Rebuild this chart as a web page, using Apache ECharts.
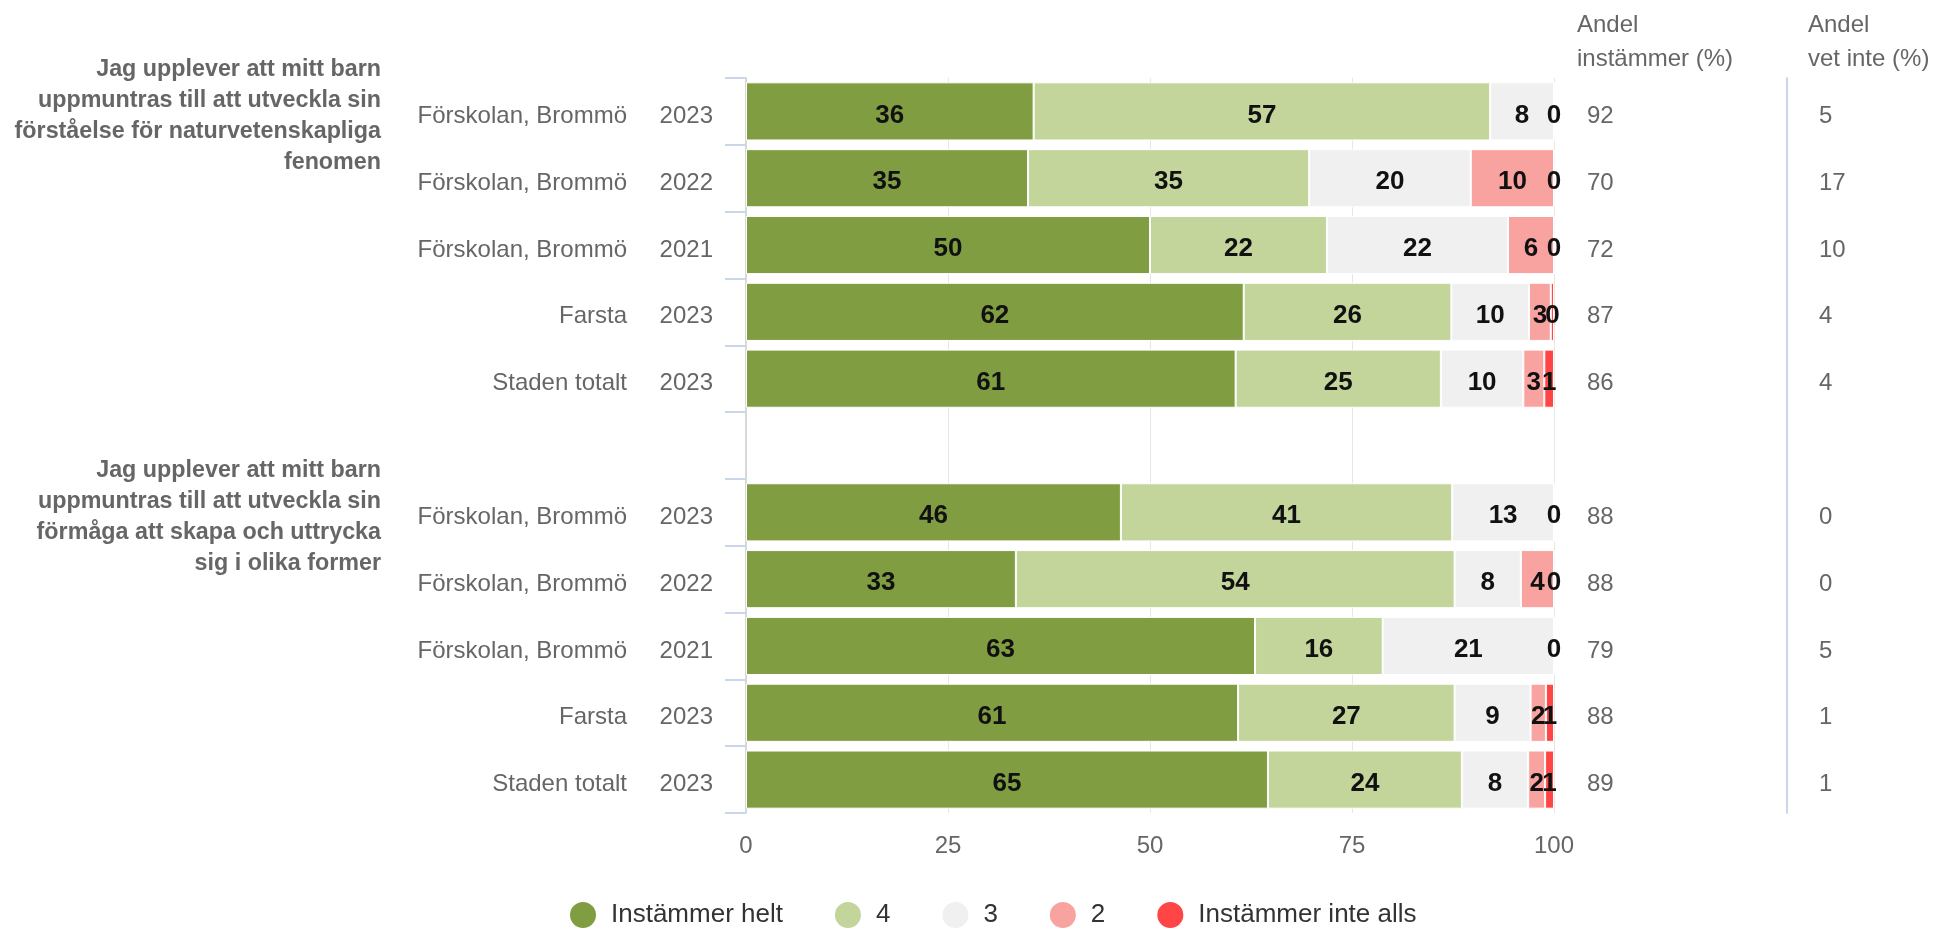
<!DOCTYPE html>
<html>
<head>
<meta charset="utf-8">
<script src="https://cdn.jsdelivr.net/npm/echarts@6/dist/echarts.min.js"></script>
<style>
html,body{margin:0;padding:0;background:#fff;}
#chart{width:1946px;height:928px;}
</style>
</head>
<body>
<div id="chart"></div>
<script>
const units = ['Förskolan, Brommö','Förskolan, Brommö','Förskolan, Brommö','Farsta','Staden totalt','',
               'Förskolan, Brommö','Förskolan, Brommö','Förskolan, Brommö','Farsta','Staden totalt'];
const years = ['2023','2022','2021','2023','2023','','2023','2022','2021','2023','2023'];
const questions = [
  'Jag upplever att mitt barn\nuppmuntras till att utveckla sin\nförståelse för naturvetenskapliga\nfenomen','','','','','',
  'Jag upplever att mitt barn\nuppmuntras till att utveckla sin\nförmåga att skapa och uttrycka\nsig i olika former','','','',''
];
const seriesNames = ['Instämmer helt','4','3','2','Instämmer inte alls'];
const helt     = [35.6, 34.9, 50.0, 61.6, 60.6, null, 46.4, 33.4, 63.0, 60.9, 64.6];
const fyra     = [56.5, 34.8, 21.9, 25.7, 25.4, null, 41.0, 54.3, 15.8, 26.8, 24.0];
const tre      = [7.9, 20.0, 22.4, 9.6, 10.2, null, 12.6, 8.2, 21.2, 9.4, 8.2];
const tva      = [0, 10.3, 5.7, 2.7, 2.6, null, 0, 4.1, 0, 1.9, 2.1];
const inteAlls = [0, 0, 0, 0.4, 1.2, null, 0, 0, 0, 1.0, 1.1];
const andelInstammer = ['92','70','72','87','86','','88','88','79','88','89'];
const andelVetInte   = ['5','17','10','4','4','','0','0','5','1','1'];
const xTicks = [0, 25, 50, 75, 100];

const colors = ['#809d42','#c3d59b','#f0f0f0','#f9a3a1','#ff4545'];
const FONT = '"Liberation Sans", Arial, sans-serif';
const valuesBySeries = [helt, fyra, tre, tva, inteAlls];

const chart = echarts.init(document.getElementById('chart'));

const series = valuesBySeries.map((vals, si) => ({
  name: seriesNames[si],
  type: 'bar',
  stack: 'total',
  barCategoryGap: '13%',
  xAxisIndex: 0,
  yAxisIndex: 0,
  data: vals,
  itemStyle: { color: colors[si], borderColor: '#ffffff', borderWidth: 1 },
  label: {
    show: true,
    position: 'inside',
    offset: [0, 4],
    color: '#111',
    fontFamily: FONT,
    fontWeight: 'bold',
    fontSize: 26,
    formatter: p => {
      if (p.value == null) return '';
      const v = Math.round(p.value);
      if (si === 4 && v === 0 && Math.round(tva[p.dataIndex]) === 0) return '';
      return String(v);
    }
  },
  emphasis: { disabled: true }
}));

const catAxisBase = {
  type: 'category',
  inverse: true,
  gridIndex: 1,
  axisTick: { show: false },
  axisLine: { show: false },
  splitLine: { show: false }
};
const rowLabel = { fontSize: 24, color: '#666', fontFamily: FONT };

chart.setOption({
  animation: false,
  textStyle: { fontFamily: FONT },
  color: colors,
  grid: [
    { left: 746, right: 392, top: 78, bottom: 115, containLabel: false },
    { left: 746, right: 392, top: 83, bottom: 110, containLabel: false }
  ],
  legend: {
    data: seriesNames,
    left: 563,
    top: 895,
    icon: 'circle',
    itemWidth: 28,
    itemHeight: 28,
    itemGap: 50,
    textStyle: { fontSize: 26, color: '#333', fontFamily: FONT, padding: [0, 0, 0, 9] },
    selectedMode: false
  },
  xAxis: [
    {
      type: 'value',
      gridIndex: 0,
      min: xTicks[0],
      max: xTicks[xTicks.length - 1],
      interval: 25,
      axisLine: { show: false },
      axisTick: { show: false },
      splitLine: { show: true, lineStyle: { color: '#e6e6e6', width: 1 } },
      axisLabel: { fontSize: 24, color: '#666', margin: 21, fontFamily: FONT }
    },
    { type: 'value', gridIndex: 1, show: false, min: 0, max: 100 }
  ],
  yAxis: [
    {
      type: 'category',
      inverse: true,
      gridIndex: 0,
      position: 'left',
      data: years,
      axisLine: { show: true, lineStyle: { color: '#d8d8d8', width: 2 } },
      axisTick: { show: true, length: 21, alignWithLabel: false, lineStyle: { color: '#ccd6eb', width: 2 } },
      axisLabel: { show: false },
      splitLine: { show: false }
    },
    {
      type: 'category',
      inverse: true,
      gridIndex: 0,
      position: 'right',
      offset: 233,
      data: andelVetInte,
      axisLine: { show: true, lineStyle: { color: '#ccd6eb', width: 2 } },
      axisTick: { show: false },
      axisLabel: { show: false },
      splitLine: { show: false }
    },
    Object.assign({}, catAxisBase, {
      data: years,
      position: 'left',
      offset: 0,
      axisLabel: Object.assign({}, rowLabel, { margin: 33 })
    }),
    Object.assign({}, catAxisBase, {
      data: units,
      position: 'left',
      offset: 0,
      axisLabel: Object.assign({}, rowLabel, { margin: 119 })
    }),
    Object.assign({}, catAxisBase, {
      data: questions,
      position: 'left',
      offset: 0,
      axisLabel: {
        fontSize: 23.3, color: '#666', fontWeight: 'bold', margin: 365, lineHeight: 31,
        align: 'right', fontFamily: FONT, interval: 0
      }
    }),
    Object.assign({}, catAxisBase, {
      data: andelInstammer,
      position: 'right',
      offset: 0,
      axisLabel: Object.assign({}, rowLabel, { margin: 33, align: 'left' })
    }),
    Object.assign({}, catAxisBase, {
      data: andelVetInte,
      position: 'right',
      offset: 233,
      axisLabel: Object.assign({}, rowLabel, { margin: 32, align: 'left' })
    })
  ],
  graphic: [
    { type: 'text', left: 1577, top: 8,
      style: { text: 'Andel\ninstämmer (%)', fontSize: 24, lineHeight: 34, fill: '#666', fontFamily: FONT } },
    { type: 'text', left: 1808, top: 8,
      style: { text: 'Andel\nvet inte (%)', fontSize: 24, lineHeight: 34, fill: '#666', fontFamily: FONT } }
  ],
  series: series
});
</script>
</body>
</html>
